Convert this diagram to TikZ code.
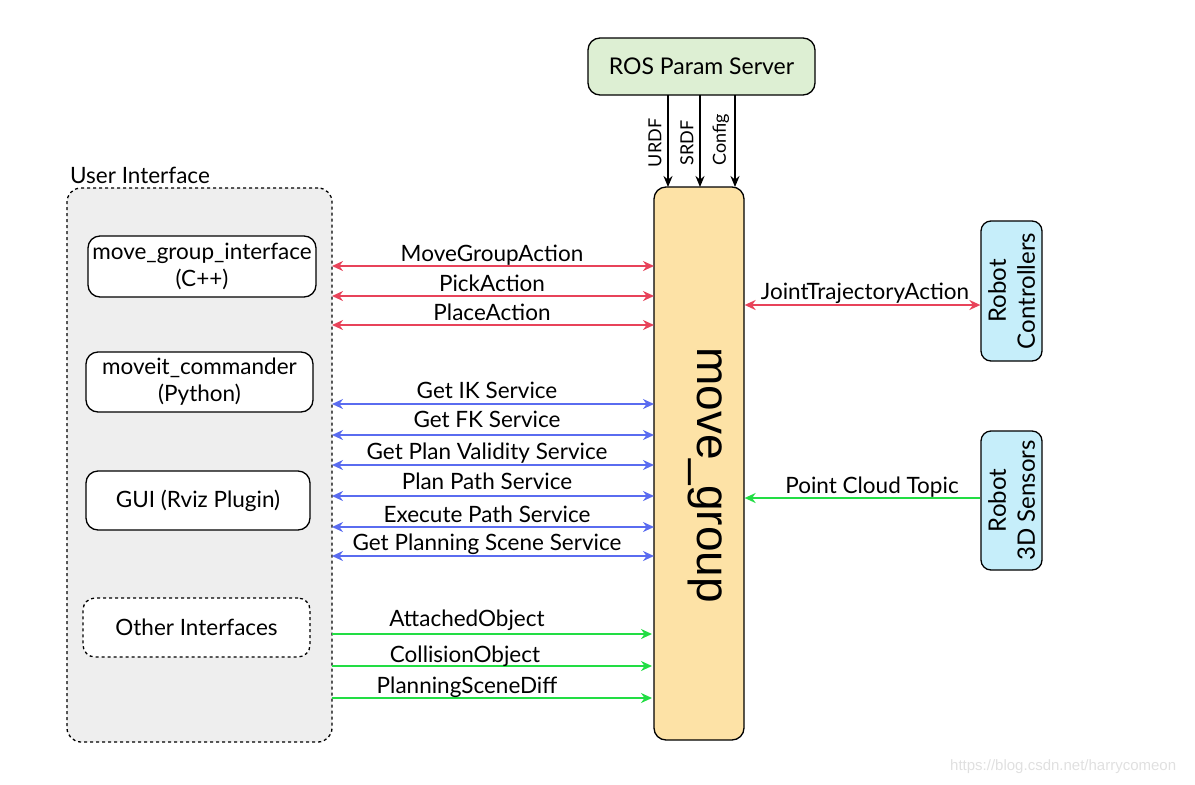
\documentclass[tikz,border=0pt]{standalone}
\usepackage{fontspec}
\setmainfont{Lato}
\newfontfamily\arialf{Liberation Sans}
\usetikzlibrary{arrows.meta}
\definecolor{rosgreen}{HTML}{DDEFD3}
\definecolor{mgorange}{HTML}{FDE2A6}
\definecolor{uigray}{HTML}{EEEEEE}
\definecolor{robblue}{HTML}{C6EEFA}
\definecolor{ared}{HTML}{E8435A}
\definecolor{ablue}{HTML}{5A6CF0}
\definecolor{agreen}{HTML}{22DD44}
\begin{document}
\begin{tikzpicture}[x=1pt,y=-1pt,
  box/.style={draw=black,line width=1.3pt,rounded corners=12pt,inner sep=0pt},
  lbl/.style={font=\fontsize{22.5}{26}\selectfont,inner sep=0pt},
  boxtxt/.style={font=\fontsize{22.5}{27}\selectfont},
  tip/.style={-{Stealth[length=11pt,width=10pt]}},
  dtip/.style={{Stealth[length=11pt,width=10pt]}-{Stealth[length=11pt,width=10pt]}},
  redarr/.style={dtip,draw=ared,line width=2pt},
  bluearr/.style={dtip,draw=ablue,line width=2pt},
  greenarr/.style={tip,draw=agreen,line width=2.2pt},
  blackarr/.style={-{Stealth[length=11pt,width=9pt]},draw=black,line width=1.8pt},
  vlbl/.style={rotate=90,font=\fontsize{18}{20}\selectfont,inner sep=0pt}]
\useasboundingbox (0,0) rectangle (1195,785);
% ROS param server
\node[box,fill=rosgreen,minimum width=227pt,minimum height=57pt,font=\fontsize{23}{26}\selectfont] (ros) at (701.5,66.5) {ROS Param Server};
% move_group
\node[box,fill=mgorange,minimum width=90pt,minimum height=553pt] (mg) at (699,463.5) {};
\node[rotate=-90,font=\arialf\fontsize{46}{50}\selectfont,inner sep=0pt] (mgt) at (705,475) {move\_group};
% param arrows
\coordinate (u1) at (668,95); \coordinate (u2) at (668,187);
\coordinate (s1) at (700,95); \coordinate (s2) at (700,187);
\coordinate (c1) at (735,95); \coordinate (c2) at (735,187);
\draw[blackarr] (u1) -- (u2);
\draw[blackarr] (s1) -- (s2);
\draw[blackarr] (c1) -- (c2);
\node[vlbl] (urdf) at (655,143) {URDF};
\node[vlbl] (srdf) at (687,143) {SRDF};
\node[vlbl] (conf) at (721,140) {Config};
% user interface
\node[draw=black,dashed,line width=1.3pt,dash pattern=on 3pt off 3pt,rounded corners=14pt,fill=uigray,minimum width=265pt,minimum height=554pt,inner sep=0pt] (ui) at (199.5,465) {};
\node[anchor=west,font=\fontsize{22.5}{26}\selectfont,inner sep=0pt] (uit) at (70,175) {User Interface};
\node[box,fill=white,minimum width=228pt,minimum height=61pt,align=center,boxtxt] (mgi) at (202,266.5) {move\_group\_interface\\(C++)};
\node[box,fill=white,minimum width=227pt,minimum height=60pt,align=center,boxtxt] (mc) at (199.5,382) {moveit\_commander\\(Python)};
\node[box,fill=white,minimum width=224pt,minimum height=59pt,boxtxt] (gui) at (198,500.5) {GUI (Rviz Plugin)};
\node[box,dashed,dash pattern=on 3pt off 3pt,fill=white,minimum width=227pt,minimum height=59pt,boxtxt] (oth) at (196.5,627.5) {Other Interfaces};
% red arrows
\foreach \y/\t/\n/\o in {266/MoveGroupAction/a1/5,296/PickAction/a2/5,325/PlaceAction/a3/5}{
  \coordinate (\n l) at (332,\y); \coordinate (\n r) at (654,\y);
  \draw[redarr] (\n l) -- (\n r);
  \node[lbl,anchor=base] at (492,\y-\o) {\t};
}
% blue arrows
\foreach \y/\t/\n/\o in {404/Get IK Service/b1/6,435/Get FK Service/b2/8,465/Get Plan Validity Service/b3/6,496/Plan Path Service/b4/7,527/Execute Path Service/b5/5,556/Get Planning Scene Service/b6/6}{
  \coordinate (\n l) at (332,\y); \coordinate (\n r) at (654,\y);
  \draw[bluearr] (\n l) -- (\n r);
  \node[lbl,anchor=base] at (487,\y-\o) {\t};
}
% green arrows
\foreach \y/\t/\n/\x/\o in {634/AttachedObject/g1/467/8,666/CollisionObject/g2/465/4,698/PlanningSceneDiff/g3/467/5}{
  \coordinate (\n l) at (332,\y); \coordinate (\n r) at (652,\y);
  \draw[greenarr] (\n l) -- (\n r);
  \node[lbl,anchor=base] at (\x,\y-\o) {\t};
}
% robot controllers
\node[box,fill=robblue,minimum width=61pt,minimum height=140pt,rounded corners=10pt] (rc) at (1011.5,291) {};
\node[rotate=90,align=center,font=\fontsize{24}{29}\selectfont,inner sep=0pt] (rct) at (rc) {Robot\\Controllers};
\node[box,fill=robblue,minimum width=61pt,minimum height=139pt,rounded corners=10pt] (rs) at (1011.5,500.5) {};
\node[rotate=90,align=center,font=\fontsize{24}{29}\selectfont,inner sep=0pt] (rst) at (rs) {Robot\\3D Sensors};
\draw[redarr] (mg.east |- 0,305) -- (rc.west |- 0,305);
\node[lbl,anchor=base] at (865,299) {JointTrajectoryAction};
\draw[greenarr] (rs.west |- 0,498) -- (mg.east |- 0,498);
\node[lbl,anchor=base] at (872,493) {Point Cloud Topic};
% watermark
\node[anchor=west,font=\arialf\fontsize{15}{18}\selectfont,text=black!12,inner sep=0pt] (wm) at (950,767) {https://blog.csdn.net/harrycomeon};
\end{tikzpicture}
\end{document}
